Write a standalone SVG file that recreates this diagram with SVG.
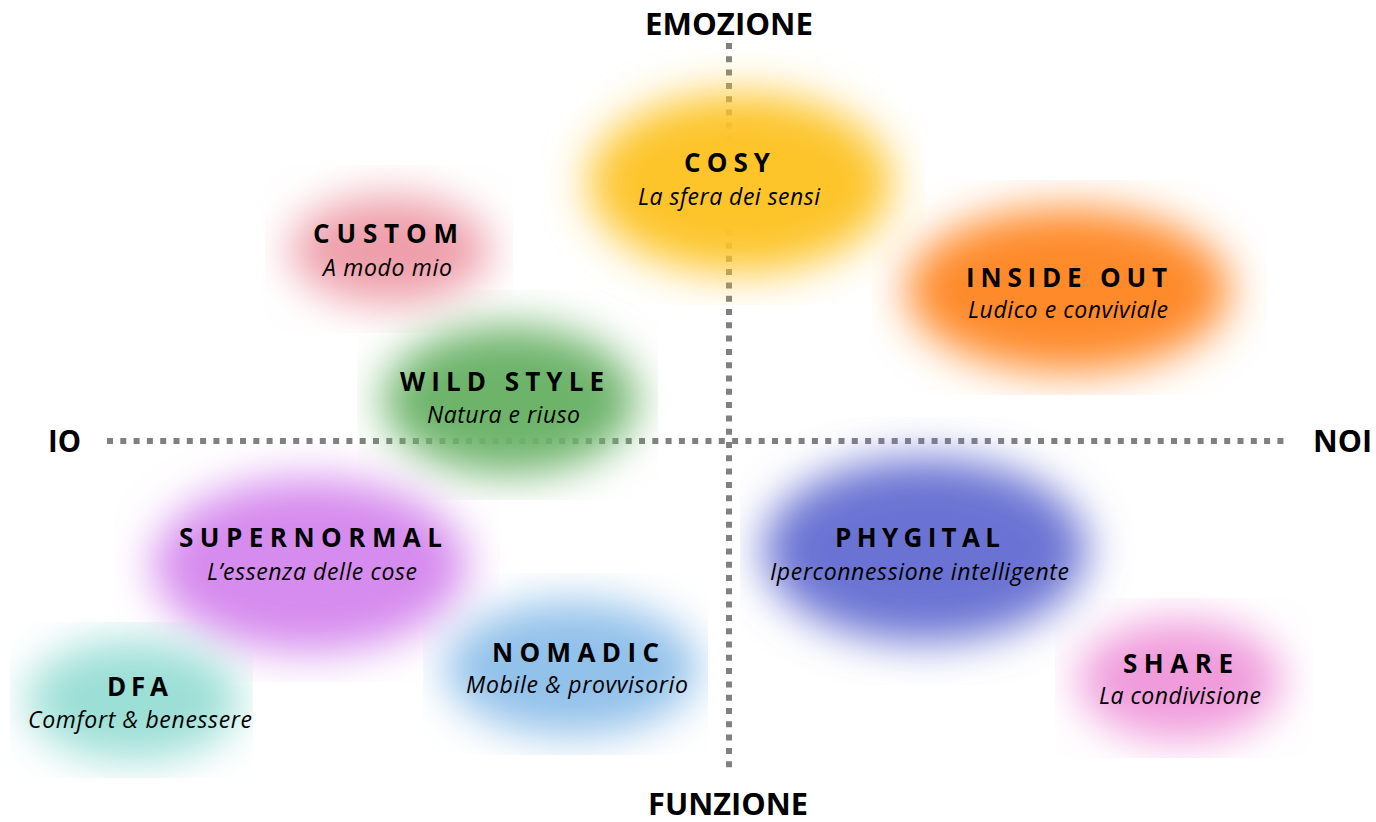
<svg xmlns="http://www.w3.org/2000/svg" width="1376" height="822" viewBox="0 0 1376 822">
<style>
.axis{fill:none;stroke:#808080;stroke-width:6;stroke-dasharray:6 7.3}
.ax{font-family:"Open Sans","Liberation Sans",sans-serif;font-weight:700;font-size:31px;fill:#000}
.t{font-family:"Open Sans","Liberation Sans",sans-serif;font-weight:700;font-size:26px;fill:#000}
.s{font-family:"Open Sans","Liberation Sans",sans-serif;font-style:italic;font-size:23px;fill:#000}
.blob{filter:url(#blur)}
</style>
<defs>
<filter id="blur" x="-50%" y="-50%" width="200%" height="200%"><feGaussianBlur stdDeviation="22"/></filter>
<clipPath id="c-cosy" clipPathUnits="userSpaceOnUse"><rect x="532" y="40" width="393" height="265"/></clipPath>
<clipPath id="c-custom" clipPathUnits="userSpaceOnUse"><rect x="265" y="165" width="248" height="168"/></clipPath>
<clipPath id="c-wild" clipPathUnits="userSpaceOnUse"><rect x="357" y="290" width="301" height="210"/></clipPath>
<clipPath id="c-inside" clipPathUnits="userSpaceOnUse"><rect x="872" y="180" width="395" height="215"/></clipPath>
<clipPath id="c-super" clipPathUnits="userSpaceOnUse"><rect x="115" y="443" width="385" height="239"/></clipPath>
<clipPath id="c-phy" clipPathUnits="userSpaceOnUse"><rect x="740" y="417" width="400" height="268"/></clipPath>
<clipPath id="c-share" clipPathUnits="userSpaceOnUse"><rect x="1055" y="598" width="258" height="160"/></clipPath>
<clipPath id="c-nomadic" clipPathUnits="userSpaceOnUse"><rect x="423" y="573" width="285" height="182"/></clipPath>
<clipPath id="c-dfa" clipPathUnits="userSpaceOnUse"><rect x="10" y="622" width="243" height="156"/></clipPath>
</defs>
<rect width="1376" height="822" fill="#fff"/>
<g id="axes">
<line class="axis" x1="729" y1="43" x2="729" y2="770"/>
<line class="axis" x1="107" y1="441" x2="1286" y2="441"/>
</g>
<g id="axis-labels">
<text class="ax" x="645" y="35" textLength="168" lengthAdjust="spacingAndGlyphs">EMOZIONE</text>
<text class="ax" x="648" y="815" textLength="160" lengthAdjust="spacingAndGlyphs">FUNZIONE</text>
<text class="ax" x="48" y="452" textLength="33" lengthAdjust="spacingAndGlyphs">IO</text>
<text class="ax" x="1313" y="452" textLength="59" lengthAdjust="spacingAndGlyphs">NOI</text>
</g>
<g id="cosy">
<ellipse class="blob" clip-path="url(#c-cosy)" cx="740" cy="183" rx="152" ry="90" fill="#FDC52B"/>
<text class="t" x="684" y="172" textLength="86" lengthAdjust="spacing">COSY</text>
<text class="s" x="638" y="205" textLength="182" lengthAdjust="spacing">La sfera dei sensi</text>
</g>
<g id="custom">
<ellipse class="blob" clip-path="url(#c-custom)" cx="390" cy="250" rx="100" ry="54" fill="#EE9FAA"/>
<text class="t" x="313" y="243" textLength="145" lengthAdjust="spacing">CUSTOM</text>
<text class="s" x="323" y="276" textLength="129" lengthAdjust="spacing">A modo mio</text>
</g>
<g id="wild-style">
<ellipse class="blob" clip-path="url(#c-wild)" cx="510" cy="400" rx="127" ry="74" fill="#6DB46B"/>
<text class="t" x="400" y="391" textLength="204" lengthAdjust="spacing">WILD STYLE</text>
<text class="s" x="427" y="423" textLength="153" lengthAdjust="spacing">Natura e riuso</text>
</g>
<g id="inside-out">
<ellipse class="blob" clip-path="url(#c-inside)" cx="1068" cy="290" rx="162" ry="82" fill="#FE8A2A"/>
<text class="t" x="966" y="287" textLength="201" lengthAdjust="spacing">INSIDE OUT</text>
<text class="s" x="968" y="318" textLength="200" lengthAdjust="spacing">Ludico e conviviale</text>
</g>
<g id="supernormal">
<ellipse class="blob" clip-path="url(#c-super)" cx="310" cy="565" rx="157" ry="87" fill="#D68BEE"/>
<text class="t" x="179" y="547" textLength="263" lengthAdjust="spacing">SUPERNORMAL</text>
<text class="s" x="207" y="580" textLength="210" lengthAdjust="spacing">L’essenza delle cose</text>
</g>
<g id="phygital">
<ellipse class="blob" clip-path="url(#c-phy)" cx="925" cy="550" rx="162" ry="92" fill="#6B73D3"/>
<text class="t" x="835" y="547" textLength="165" lengthAdjust="spacing">PHYGITAL</text>
<text class="s" x="770" y="580" textLength="299" lengthAdjust="spacing">Iperconnessione intelligente</text>
</g>
<g id="share">
<ellipse class="blob" clip-path="url(#c-share)" cx="1180" cy="680" rx="102" ry="60" fill="#F09BDC"/>
<text class="t" x="1123" y="673" textLength="110" lengthAdjust="spacing">SHARE</text>
<text class="s" x="1099" y="704" textLength="162" lengthAdjust="spacing">La condivisione</text>
</g>
<g id="nomadic">
<ellipse class="blob" clip-path="url(#c-nomadic)" cx="572" cy="668" rx="127" ry="67" fill="#92C1EA"/>
<text class="t" x="492" y="662" textLength="167" lengthAdjust="spacing">NOMADIC</text>
<text class="s" x="466" y="693" textLength="222" lengthAdjust="spacing">Mobile &amp; provvisorio</text>
</g>
<g id="dfa">
<ellipse class="blob" clip-path="url(#c-dfa)" cx="133" cy="700" rx="107" ry="60" fill="#9BDFD6"/>
<text class="t" x="107" y="696" textLength="61" lengthAdjust="spacing">DFA</text>
<text class="s" x="28" y="728" textLength="224" lengthAdjust="spacing">Comfort &amp; benessere</text>
</g>
</svg>
